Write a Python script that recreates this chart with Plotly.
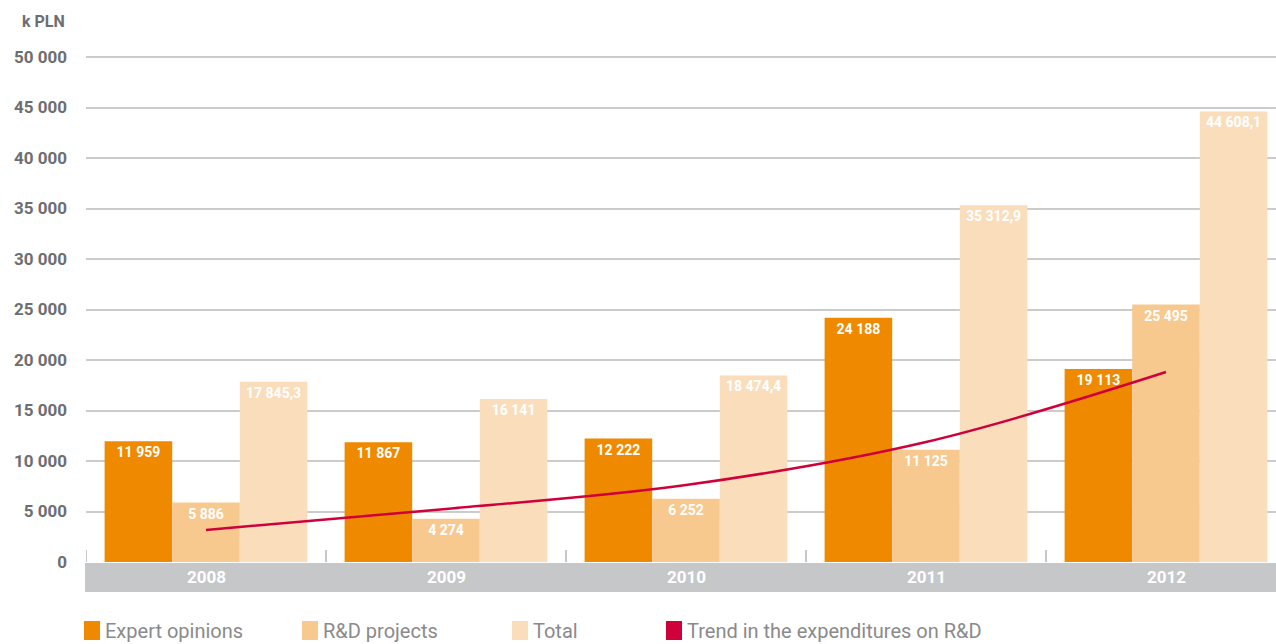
"""R&D expenditures 2008-2012, grouped bars with trend line."""
import plotly.graph_objects as go

years = ["2008", "2009", "2010", "2011", "2012"]
expert = [11959, 11867, 12222, 24188, 19113]
rnd = [5886, 4274, 6252, 11125, 25495]
total = [17845.3, 16141, 18474.4, 35312.9, 44608.1]
trend = [3170, 5250, 7620, 11880, 18810]

series_names = ["Expert opinions", "R&D projects", "Total", "Trend in the expenditures on R&D"]
colors = ["#ef8a00", "#f8c98f", "#fadebc", "#d0003a"]

FONT = "Roboto"
GREY = "#6d6e71"

# plot area in pixels (for placing paper-ref decorations)
W, H = 1276, 644
L, R, T, B = 86, 0, 56, 82
PW, PH = W - L - R, H - T - B
Y_TOP = 50100  # a hair above 50 000 so the top gridline is drawn


def px_x(px):
    return (px - L) / PW


def px_y(py):
    return (H - B - py) / PH


xs = list(range(len(years)))

fig = go.Figure()
for name, vals, col in zip(series_names[:3], [expert, rnd, total], colors[:3]):
    fig.add_trace(go.Bar(
        x=xs, y=vals, name=name,
        marker=dict(color=col, line_width=0),
        texttemplate="%{y:,}", textposition="inside",
        insidetextanchor="end", textangle=0,
        constraintext="none",
        textfont=dict(family=FONT, size=14, color="white", weight="bold"),
        hoverinfo="skip",
    ))

fig.add_trace(go.Scatter(
    x=xs, y=trend, mode="lines", name=series_names[3],
    line=dict(color=colors[3], width=2.5, shape="spline", smoothing=1.0),
    hoverinfo="skip",
))

shapes = []
# grey band under the x axis
shapes.append(dict(type="rect", xref="paper", yref="paper",
                   x0=px_x(85), x1=1, y0=px_y(592), y1=px_y(563),
                   fillcolor="#c6c7c9", line_width=0, layer="below"))
# small ticks between categories
for i in xs:
    shapes.append(dict(type="line", xref="x", yref="paper",
                       x0=i - 0.5, x1=i - 0.5, y0=0, y1=px_y(550),
                       line=dict(color="#c6c7c9", width=2), layer="below"))

annotations = []
for i, yr in zip(xs, years):
    annotations.append(dict(x=i, xref="x", y=px_y(577), yref="paper",
                            text=yr, showarrow=False, yanchor="middle",
                            font=dict(family=FONT, size=17, color="white", weight="bold")))

annotations.append(dict(x=px_x(67), xref="paper", y=px_y(22), yref="paper",
                        text="k PLN", showarrow=False, xanchor="right", yanchor="middle",
                        font=dict(family=FONT, size=16, color=GREY, weight="bold")))

# hand-made legend with square swatches
legend_x = [84, 302, 512, 666]
for lx, name, col in zip(legend_x, series_names, colors):
    shapes.append(dict(type="rect", xref="paper", yref="paper",
                       x0=px_x(lx), x1=px_x(lx + 16), y0=px_y(640), y1=px_y(621),
                       fillcolor=col, line_width=0))
    annotations.append(dict(x=px_x(lx + 19), xref="paper", y=px_y(631), yref="paper",
                            text=name, showarrow=False, xanchor="left", yanchor="middle",
                            font=dict(family=FONT, size=20, color="#8a8a8c")))

fig.update_layout(
    width=W, height=H,
    margin=dict(l=L, r=R, t=T, b=B),
    paper_bgcolor="white", plot_bgcolor="white",
    barmode="group", bargap=0.155, bargroupgap=0,
    separators=", ",
    showlegend=False,
    shapes=shapes, annotations=annotations,
    xaxis=dict(range=[-0.5, 4.5 - 10 / 240], showticklabels=False,
               showgrid=False, zeroline=False, showline=False, fixedrange=True),
    yaxis=dict(range=[0, Y_TOP], tickvals=list(range(0, 50001, 5000)), tickformat=",",
               showgrid=True, gridcolor="#cbcbcb", gridwidth=2,
               zeroline=False, showline=False, ticks="",
               ticklabelstandoff=18,
               tickfont=dict(family=FONT, size=17, color=GREY, weight="bold")),
)

fig.write_html("out.html", config={"displayModeBar": False},
               post_script="document.body.style.margin='0';")
